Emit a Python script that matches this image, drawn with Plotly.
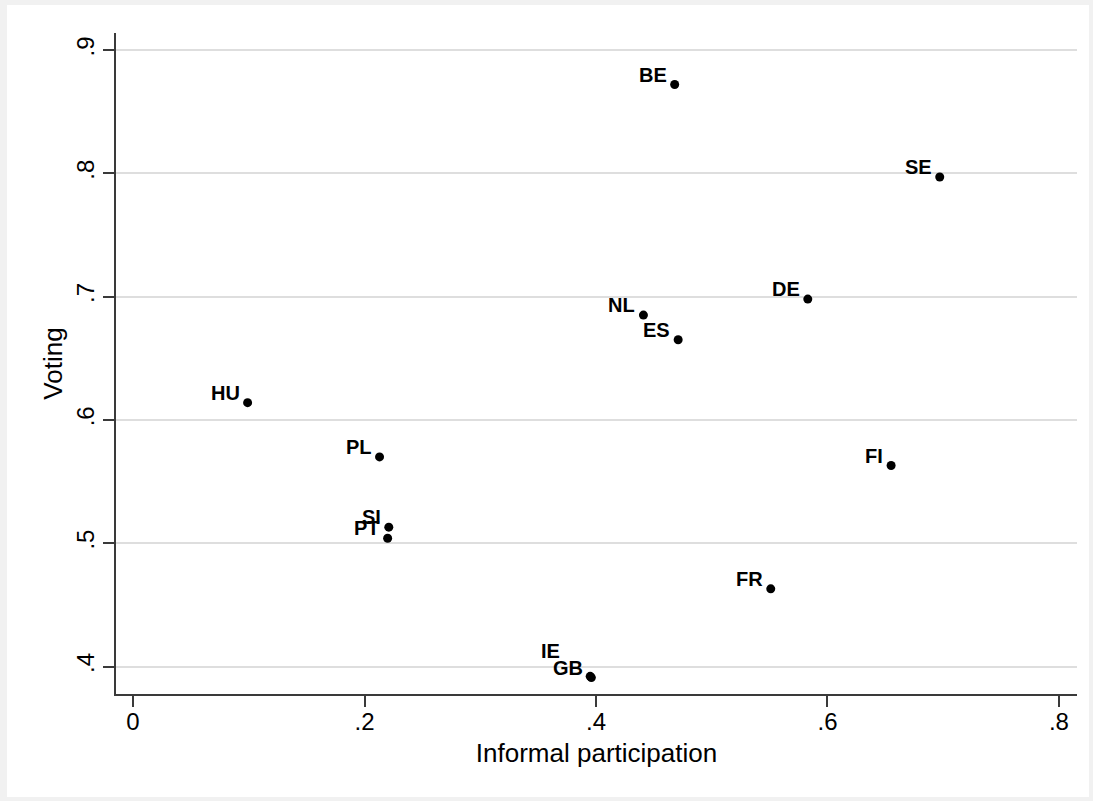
import plotly.graph_objects as go

# Country codes with informal participation (x) and voting (y) rates
countries = ["BE", "SE", "DE", "NL", "ES", "HU", "PL", "FI", "SI", "PT", "FR", "IE", "GB"]
informal = [0.468, 0.697, 0.583, 0.441, 0.471, 0.099, 0.213, 0.655, 0.221, 0.220, 0.551, 0.395, 0.396]
voting = [0.872, 0.797, 0.698, 0.685, 0.665, 0.614, 0.570, 0.563, 0.513, 0.504, 0.463, 0.392, 0.391]

x_ticks = [0, 0.2, 0.4, 0.6, 0.8]
x_tick_labels = ["0", ".2", ".4", ".6", ".8"]
y_ticks = [0.4, 0.5, 0.6, 0.7, 0.8, 0.9]
y_tick_labels = [".4", ".5", ".6", ".7", ".8", ".9"]

FONT = "Liberation Sans, Arial, Helvetica, sans-serif"

# label placement: up-left of each marker; IE is nudged further to clear GB
default_shift = (-6, 10)
label_shift = {"IE": (-28, 25)}

fig = go.Figure()
fig.add_trace(go.Scatter(
    x=informal, y=voting, mode="markers",
    marker=dict(color="black", size=9, line=dict(width=0)),
    hoverinfo="text", text=countries, showlegend=False,
))

for c, xv, yv in zip(countries, informal, voting):
    dx, dy = label_shift.get(c, default_shift)
    fig.add_annotation(
        x=xv, y=yv, text=c, showarrow=False,
        xanchor="right", yanchor="middle", xshift=dx, yshift=dy,
        font=dict(family=FONT, size=20, color="black", weight="bold"),
    )

axis_common = dict(
    showline=True, linecolor="#3a3a3a", linewidth=1.5,
    ticks="outside", ticklen=11, tickwidth=1.5, tickcolor="#3a3a3a",
    tickfont=dict(family=FONT, size=24, color="black"),
    zeroline=False,
)

fig.update_xaxes(
    range=[-0.0147, 0.8156], tickvals=x_ticks, ticktext=x_tick_labels,
    showgrid=False, ticklabelstandoff=-6,
    title=dict(text="Informal participation", font=dict(family=FONT, size=26, color="black"), standoff=10),
    **axis_common,
)
fig.update_yaxes(
    range=[0.3777, 0.9138], tickvals=y_ticks, ticktext=y_tick_labels,
    tickangle=-90, ticklabelstandoff=0,
    showgrid=True, gridcolor="#dedede", gridwidth=2,
    title=dict(text="Voting", font=dict(family=FONT, size=26, color="black"), standoff=2),
    **axis_common,
)

# outer light-grey frame around a white graph region
fig.add_shape(
    type="rect", xref="paper", yref="paper",
    x0=(7 - 116) / 961, x1=(1089 - 116) / 961,
    y0=(694 - 797) / 661, y1=(694 - 5) / 661,
    fillcolor="white", line=dict(width=0), layer="below",
)

fig.update_layout(
    width=1093, height=801,
    margin=dict(l=116, r=16, t=33, b=107),
    paper_bgcolor="#f1f1f1", plot_bgcolor="rgba(0,0,0,0)",
    font=dict(family=FONT),
)

fig.write_html("out.html")
